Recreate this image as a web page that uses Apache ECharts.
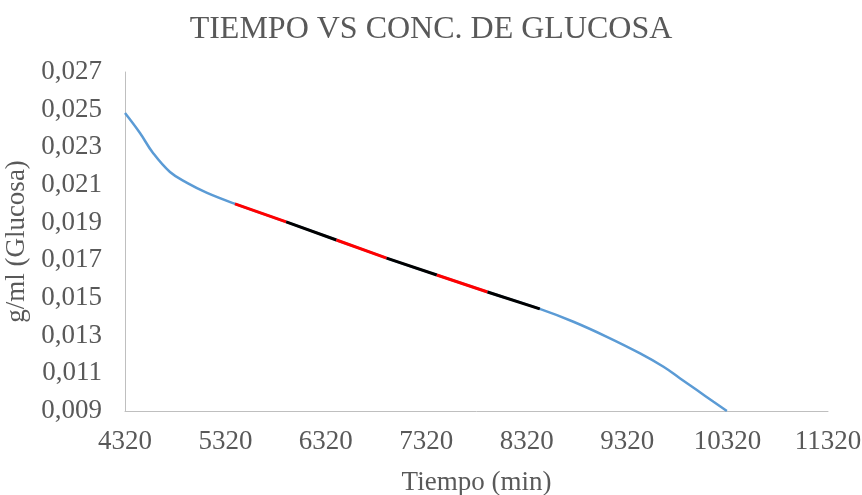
<!DOCTYPE html>
<html><head><meta charset="utf-8">
<script src="https://cdn.jsdelivr.net/npm/echarts@6/dist/echarts.min.js"></script>
<style>html,body{margin:0;padding:0;background:#fff}#c{width:862px;height:495px}</style>
</head><body><div id="c"></div>
<script>
// Curve (Tiempo min, g/ml)
var curveX = [4320, 4469, 4599, 4768, 4938, 5137, 5415, 5925, 6425, 6925, 7425, 7930, 8450, 8785, 9118, 9449, 9682, 9848, 10014, 10180, 10313];
var curveY = [0.02482, 0.02376, 0.0227, 0.02169, 0.02111, 0.02058, 0.0200, 0.01904, 0.01808, 0.01712, 0.01622, 0.01532, 0.01442, 0.01374, 0.01294, 0.01206, 0.01135, 0.01073, 0.01011, 0.00949, 0.0090];
// Highlighted linear segments (alternating red / black)
var segX = [5415, 5925, 6425, 6925, 7425, 7930, 8450];
var segY = [0.0200, 0.01904, 0.01808, 0.01712, 0.01622, 0.01532, 0.01442];
var segColors = ['#FF0000', '#000000'];
var xTicks = [4320, 5320, 6320, 7320, 8320, 9320, 10320, 11320];
var yTicks = [0.009, 0.011, 0.013, 0.015, 0.017, 0.019, 0.021, 0.023, 0.025, 0.027];

var X0 = xTicks[0], Y0 = yTicks[0];
var font = '"Liberation Serif", "Times New Roman", serif';
var series = [{
  type: 'line', smooth: 0.4, symbol: 'none',
  lineStyle: {color: '#5B9BD5', width: 2.5},
  data: curveX.map(function (x, i) { return [x - X0, curveY[i] - Y0]; })
}];
for (var i = 0; i < segX.length - 1; i++) {
  series.push({
    type: 'line', symbol: 'none', z: 3,
    lineStyle: {color: segColors[i % 2], width: 3},
    data: [[segX[i] - X0, segY[i] - Y0], [segX[i + 1] - X0, segY[i + 1] - Y0]]
  });
}
var chart = echarts.init(document.getElementById('c'));
chart.setOption({
  animation: false,
  backgroundColor: '#fff',
  title: {text: 'TIEMPO VS CONC. DE GLUCOSA', left: 'center', top: 9,
    textStyle: {fontFamily: font, fontSize: 32, fontWeight: 'normal', color: '#595959'}},
  grid: {left: 125, right: 34, top: 72, bottom: 84, containLabel: false, outerBoundsMode: 'none'},
  xAxis: {
    type: 'value', min: 0, max: xTicks[xTicks.length - 1] - X0, interval: 1000,
    name: 'Tiempo (min)', nameLocation: 'middle', nameGap: 58,
    nameTextStyle: {fontFamily: font, fontSize: 27, color: '#595959'},
    axisLine: {show: true, lineStyle: {color: '#BFBFBF', width: 1}},
    axisTick: {show: false}, splitLine: {show: false},
    axisLabel: {fontFamily: font, fontSize: 27, color: '#595959', margin: 17,
      formatter: function (v) { return String(Math.round(v + X0)); }}
  },
  yAxis: {
    type: 'value', min: 0, max: +(yTicks[yTicks.length - 1] - Y0).toFixed(4), interval: 0.002,
    name: 'g/ml (Glucosa)', nameLocation: 'middle', nameGap: 94,
    nameTextStyle: {fontFamily: font, fontSize: 27, color: '#595959'},
    axisLine: {show: true, lineStyle: {color: '#BFBFBF', width: 1}},
    axisTick: {show: false}, splitLine: {show: false},
    axisLabel: {fontFamily: font, fontSize: 27, color: '#595959', margin: 23,
      formatter: function (v) { return (v + Y0).toFixed(3).replace('.', ','); }}
  },
  series: series
});
</script></body></html>
